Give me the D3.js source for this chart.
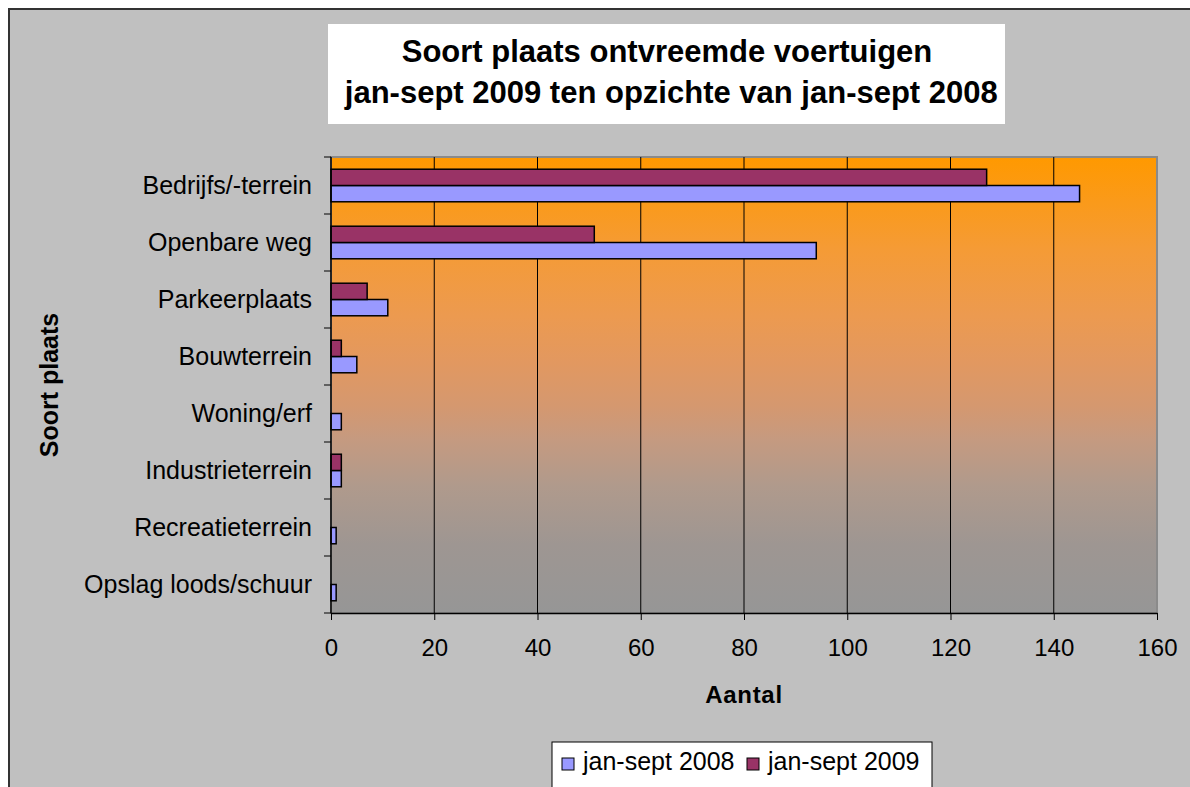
<!DOCTYPE html>
<html>
<head>
<meta charset="utf-8">
<script src="https://d3js.org/d3.v7.min.js"></script>
<style>
  body { margin: 0; background: #ffffff; }
  text { font-family: "Liberation Sans", Arial, sans-serif; fill: #000; }
</style>
</head>
<body>
<div id="chart"></div>
<script>
// data
var categories = ["Bedrijfs/-terrein", "Openbare weg", "Parkeerplaats", "Bouwterrein",
                  "Woning/erf", "Industrieterrein", "Recreatieterrein", "Opslag loods/schuur"];
var series = ["jan-sept 2008", "jan-sept 2009"];
var values2008 = [145, 94, 11, 5, 2, 2, 1, 1];
var values2009 = [127, 51, 7, 2, 0, 2, 0, 0];
var xTicks = [0, 20, 40, 60, 80, 100, 120, 140, 160];
var titleLines = ["Soort plaats ontvreemde voertuigen", " jan-sept 2009 ten opzichte van jan-sept 2008"];

var width = 1190;
var height = 787;
var colors = { "jan-sept 2008": "#9999ff", "jan-sept 2009": "#993366" };

var rows = categories.map(function (c, i) {
    return { cat: c, "jan-sept 2008": values2008[i], "jan-sept 2009": values2009[i] };
});

var svg = d3.select('#chart')
    .append('svg')
    .attr('width', width)
    .attr('height', height);

// chart area
svg.append('rect')
    .attr('x', 9).attr('y', 9)
    .attr('width', width + 20).attr('height', height + 20)
    .attr('fill', '#c0c0c0')
    .attr('stroke', '#333')
    .attr('stroke-width', 2);

// title box
svg.append('rect')
    .attr('x', 328).attr('y', 24)
    .attr('width', 677).attr('height', 100)
    .attr('fill', '#fff');

svg.append('g').selectAll('text')
    .data(titleLines)
    .enter()
    .append('text')
    .attr('x', 667)
    .attr('y', (d, i) => 62 + i * 41)
    .attr('text-anchor', 'middle')
    .style('font-size', '31px')
    .style('font-weight', 'bold')
    .style('white-space', 'pre')
    .text(d => d);

var plot = { left: 331, top: 157, right: 1157, bottom: 613 };

var scaleX = d3.scaleLinear()
    .domain([0, 160])
    .range([plot.left, plot.right]);

var scaleY = d3.scaleBand()
    .domain(categories)
    .range([plot.top, plot.bottom])
    .paddingInner(0.4286)
    .paddingOuter(0.2143);

var scaleSeries = d3.scaleBand()
    .domain(["jan-sept 2009", "jan-sept 2008"]) // excel draws the last series on top
    .range([0, scaleY.bandwidth()]);

// gradient plot background (orange to grey, not quite linear)
var gradStops = [
    [0, '#ff9900'], [0.2, '#f59b35'], [0.35, '#ec9a50'], [0.45, '#e29860'],
    [0.55, '#d49870'], [0.62, '#c59a80'], [0.72, '#b09a8c'], [0.85, '#9e9692'], [1, '#969696']
];
var grad = svg.append('defs').append('linearGradient')
    .attr('id', 'bg')
    .attr('x1', 0).attr('y1', 0).attr('x2', 0).attr('y2', 1);
grad.selectAll('stop')
    .data(gradStops)
    .enter()
    .append('stop')
    .attr('offset', d => d[0])
    .attr('stop-color', d => d[1]);

svg.append('rect')
    .attr('x', plot.left).attr('y', plot.top)
    .attr('width', plot.right - plot.left)
    .attr('height', plot.bottom - plot.top)
    .attr('fill', 'url(#bg)')
    .attr('stroke', '#8a8a8a')
    .attr('stroke-width', 2);

// vertical gridlines
svg.append('g')
    .selectAll('line')
    .data(xTicks.slice(1, -1))
    .enter()
    .append('line')
    .attr('x1', d => scaleX(d)).attr('x2', d => scaleX(d))
    .attr('y1', plot.top).attr('y2', plot.bottom)
    .attr('stroke', '#000')
    .attr('stroke-width', 1);

// bars
var groups = svg.append('g')
    .selectAll('g')
    .data(rows)
    .enter()
    .append('g')
    .attr('transform', d => 'translate(0,' + scaleY(d.cat) + ')');

groups.selectAll('rect')
    .data(d => series.map(s => ({ key: s, value: d[s] })).filter(e => e.value > 0))
    .enter()
    .append('rect')
    .attr('x', scaleX(0))
    .attr('y', d => scaleSeries(d.key))
    .attr('width', d => scaleX(d.value) - scaleX(0))
    .attr('height', scaleSeries.bandwidth())
    .attr('fill', d => colors[d.key])
    .attr('stroke', '#000')
    .attr('stroke-width', 1.5);

// x axis
var x_axis = d3.axisBottom(scaleX)
    .tickValues(xTicks)
    .tickSize(7)
    .tickSizeOuter(0)
    .tickPadding(19);

var gx = svg.append('g')
    .attr('transform', 'translate(0,' + plot.bottom + ')')
    .call(x_axis);
gx.select('.domain').attr('stroke', '#000').attr('stroke-width', 1.5);
gx.selectAll('.tick line').attr('stroke', '#000');
gx.selectAll('text')
    .style('font-size', '24px')
    .style('font-family', '"Liberation Sans", Arial, sans-serif')
    .attr('fill', '#000');

// y axis: ticks on category boundaries
var boundaries = categories.map(c => scaleY(c) - scaleY.step() * scaleY.paddingInner() / 2)
    .concat([plot.bottom]);

svg.append('line')
    .attr('x1', plot.left).attr('x2', plot.left)
    .attr('y1', plot.top).attr('y2', plot.bottom)
    .attr('stroke', '#000')
    .attr('stroke-width', 1.5);

svg.append('g')
    .selectAll('line')
    .data(boundaries)
    .enter()
    .append('line')
    .attr('x1', plot.left - 7).attr('x2', plot.left)
    .attr('y1', d => d).attr('y2', d => d)
    .attr('stroke', '#000');

svg.append('g')
    .selectAll('text')
    .data(categories)
    .enter()
    .append('text')
    .attr('x', 312)
    .attr('y', d => scaleY(d) + scaleY.bandwidth() / 2 + 8)
    .attr('text-anchor', 'end')
    .style('font-size', '25px')
    .text(d => d);

// axis titles
svg.append('text')
    .attr('x', (plot.left + plot.right) / 2)
    .attr('y', 703)
    .attr('text-anchor', 'middle')
    .style('font-size', '24px')
    .style('font-weight', 'bold')
    .style('letter-spacing', '0.7px')
    .text('Aantal');

svg.append('text')
    .attr('transform', 'translate(58,' + (plot.top + plot.bottom) / 2 + ') rotate(-90)')
    .attr('text-anchor', 'middle')
    .style('font-size', '25px')
    .style('font-weight', 'bold')
    .text('Soort plaats');

// legend
var legend = svg.append('g').attr('transform', 'translate(552,742)');
legend.append('rect')
    .attr('width', 380).attr('height', 46)
    .attr('fill', '#fff')
    .attr('stroke', '#000')
    .attr('stroke-width', 1);

var item = legend.selectAll('g')
    .data(series)
    .enter()
    .append('g')
    .attr('transform', (d, i) => 'translate(' + (10 + i * 185) + ',0)');

item.append('rect')
    .attr('y', 16)
    .attr('width', 12).attr('height', 12)
    .attr('fill', d => colors[d])
    .attr('stroke', '#000');

item.append('text')
    .attr('x', 21)
    .attr('y', 28)
    .style('font-size', '25px')
    .text(d => d);
</script>
</body>
</html>
